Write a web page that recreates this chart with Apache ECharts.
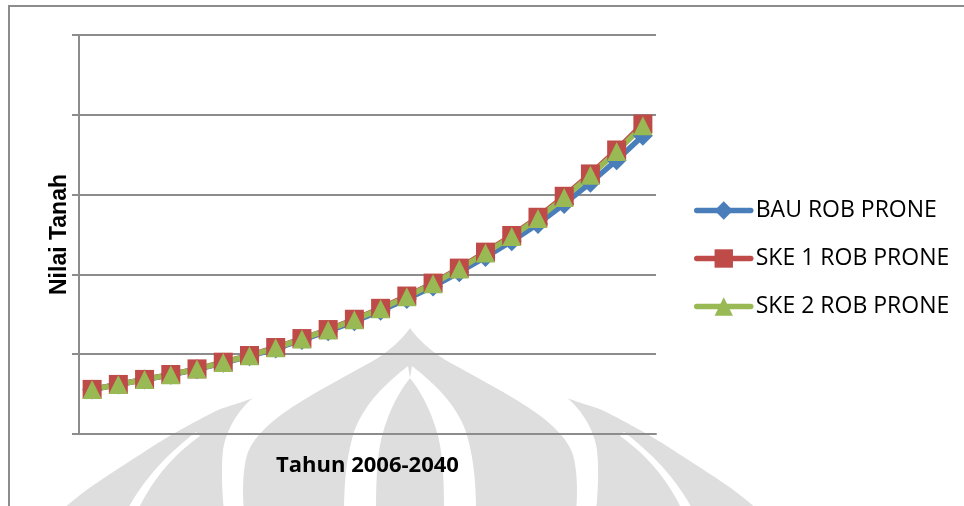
<!DOCTYPE html>
<html>
<head>
<meta charset="utf-8">
<script src="https://cdn.jsdelivr.net/npm/echarts@6/dist/echarts.min.js"></script>
<style>
  html, body { margin: 0; padding: 0; background: #ffffff; }
  #chart { width: 964px; height: 506px; }
</style>
</head>
<body>
<div id="chart"></div>
<script>
// Land value projection for rob-prone areas, three scenarios
const periods = ['2006','2007','2008','2009','2010','2011','2012','2013','2014','2015','2016',
                 '2017','2018','2019','2020','2021','2022','2023','2024','2025','2026','2027'];

const bauRobProne = [55.9, 62.0, 68.2, 74.2, 81.0, 89.2, 97.3, 107.0, 117.9, 128.8, 141.2,
                     154.4, 169.2, 184.7, 202.7, 221.8, 241.6, 263.3, 288.3, 314.8, 343.1, 373.7];
const ske1RobProne = [55.9, 62.1, 68.4, 74.6, 81.6, 90.0, 98.4, 108.4, 119.6, 130.9, 143.8,
                      157.5, 172.9, 189.1, 207.9, 227.9, 248.8, 271.6, 297.9, 325.9, 355.9, 388.4];
const ske2RobProne = [55.8, 62.0, 68.3, 74.4, 81.4, 89.7, 98.1, 108.0, 119.1, 130.4, 143.2,
                      156.8, 172.1, 188.2, 206.9, 226.8, 247.5, 270.2, 296.3, 324.1, 353.9, 386.2];

const seriesNames = ['BAU ROB PRONE', 'SKE 1 ROB PRONE', 'SKE 2 ROB PRONE'];
const axisTitles = { x: 'Tahun 2006-2040', y: 'Nilai Tanah' };

const chart = echarts.init(document.getElementById('chart'), null, { renderer: 'canvas' });

const gridGray = '#8c8c8c';
const colors = ['#4a7ebb', '#be4b48', '#98b954'];

// Page watermark (emblem behind the chart), symmetric about x = 410.
// Outlines are written as simple M/C/L/Z paths and flattened to polygons.
const markGray = '#dedede';
function pathToPoints(d) {
  const tok = d.trim().split(/\s+/);
  const pts = [];
  let i = 0, cx = 0, cy = 0;
  while (i < tok.length) {
    const c = tok[i++];
    if (c === 'M' || c === 'L') {
      cx = +tok[i++]; cy = +tok[i++];
      pts.push([cx, cy]);
    } else if (c === 'C') {
      const x1 = +tok[i++], y1 = +tok[i++], x2 = +tok[i++], y2 = +tok[i++], x3 = +tok[i++], y3 = +tok[i++];
      for (let s = 1; s <= 16; s++) {
        const t = s / 16, u = 1 - t;
        pts.push([u*u*u*cx + 3*u*u*t*x1 + 3*u*t*t*x2 + t*t*t*x3,
                  u*u*u*cy + 3*u*u*t*y1 + 3*u*t*t*y2 + t*t*t*y3]);
      }
      cx = x3; cy = y3;
    }
  }
  return pts;
}
function mirror(pts) {
  return pts.map(function (p) { return [820 - p[0], p[1]]; });
}
const domePath = 'M 410 328 C 398 345 380 358 360 368 C 318 392 262 418 248 452 C 243 466 242 490 244 512 ' +
                 'L 576 512 C 578 490 577 466 572 452 C 558 418 502 392 460 368 C 440 358 422 345 410 328 Z';
const innerStripeLeft = 'M 408 366 C 385 384 364 404 354 432 C 347 455 344 480 344 512 L 376 512 ' +
                        'C 376 480 377 456 382 436 C 389 410 399 392 410 378 Z';
const sideLeft = 'M 253 398 C 240 403 228 406 218 410 C 190 424 165 438 147 450 C 120 468 85 488 60 512 ' +
                 'L 224 512 C 222 490 221 470 223 450 C 226 430 238 410 253 398 Z';
const sideStripeLeft = 'M 196 432 C 170 452 145 476 126 512 L 137 512 C 152 480 172 456 200 436 Z';

const dome = pathToPoints(domePath);
const stripeL = pathToPoints(innerStripeLeft);
const sideL = pathToPoints(sideLeft);
const sideStripeL = pathToPoints(sideStripeLeft);

function poly(points, fill, z) {
  return { type: 'polygon', shape: { points: points }, style: { fill: fill }, z: z, silent: true };
}
const watermark = [
  poly(dome, markGray, -20),
  poly(sideL, markGray, -20),
  poly(mirror(sideL), markGray, -20),
  poly(stripeL, '#ffffff', -19),
  poly(mirror(stripeL), '#ffffff', -19),
  poly(sideStripeL, '#ffffff', -19),
  poly(mirror(sideStripeL), '#ffffff', -19)
];

function lineSeries(name, data, symbol, color, size) {
  return {
    name: name,
    type: 'line',
    data: data,
    symbol: symbol,
    symbolSize: size,
    showAllSymbol: true,
    color: color,
    lineStyle: { color: color, width: 5.5, cap: 'round', join: 'round' },
    itemStyle: { color: color, borderWidth: 0 },
    emphasis: { disabled: true },
    animation: false
  };
}

chart.setOption({
  backgroundColor: '#ffffff',
  animation: false,
  graphic: watermark.concat([
    {
      type: 'rect',
      shape: { x: 9, y: 6, width: 1000, height: 600 },
      style: { fill: 'none', stroke: gridGray, lineWidth: 2 },
      z: -10, silent: true
    }
  ]),
  grid: { left: 79, right: 308, top: 35, bottom: 72 },
  legend: {
    orient: 'vertical',
    left: 689,
    top: 194,
    itemWidth: 54,
    itemHeight: 23,
    itemGap: 25,
    lineStyle: { width: 5.5 },
    textStyle: { fontFamily: 'Open Sans', fontSize: 23, color: '#000', lineHeight: 23 },
    data: seriesNames
  },
  xAxis: {
    type: 'category',
    data: periods,
    boundaryGap: true,
    name: axisTitles.x,
    nameLocation: 'middle',
    nameGap: 21,
    nameTextStyle: { fontFamily: 'Open Sans', fontWeight: 'bold', fontSize: 22, color: '#000' },
    axisLine: { show: true, lineStyle: { color: gridGray, width: 2 } },
    axisTick: { show: false },
    axisLabel: { show: false },
    splitLine: { show: false }
  },
  yAxis: {
    type: 'value',
    min: 0,
    max: 500,
    interval: 100,
    name: axisTitles.y,
    nameLocation: 'middle',
    nameGap: 8,
    nameTextStyle: { fontFamily: 'Liberation Sans', fontWeight: 'bold', fontSize: 23, color: '#000' },
    axisLine: { show: true, lineStyle: { color: gridGray, width: 2 } },
    axisTick: { show: true, length: 7, lineStyle: { color: gridGray, width: 2 } },
    axisLabel: { show: false },
    splitLine: { show: true, lineStyle: { color: gridGray, width: 2 } }
  },
  series: [
    lineSeries(seriesNames[0], bauRobProne, 'diamond', colors[0], 20),
    lineSeries(seriesNames[1], ske1RobProne, 'rect', colors[1], 19),
    lineSeries(seriesNames[2], ske2RobProne, 'triangle', colors[2], 19)
  ]
});
</script>
</body>
</html>
